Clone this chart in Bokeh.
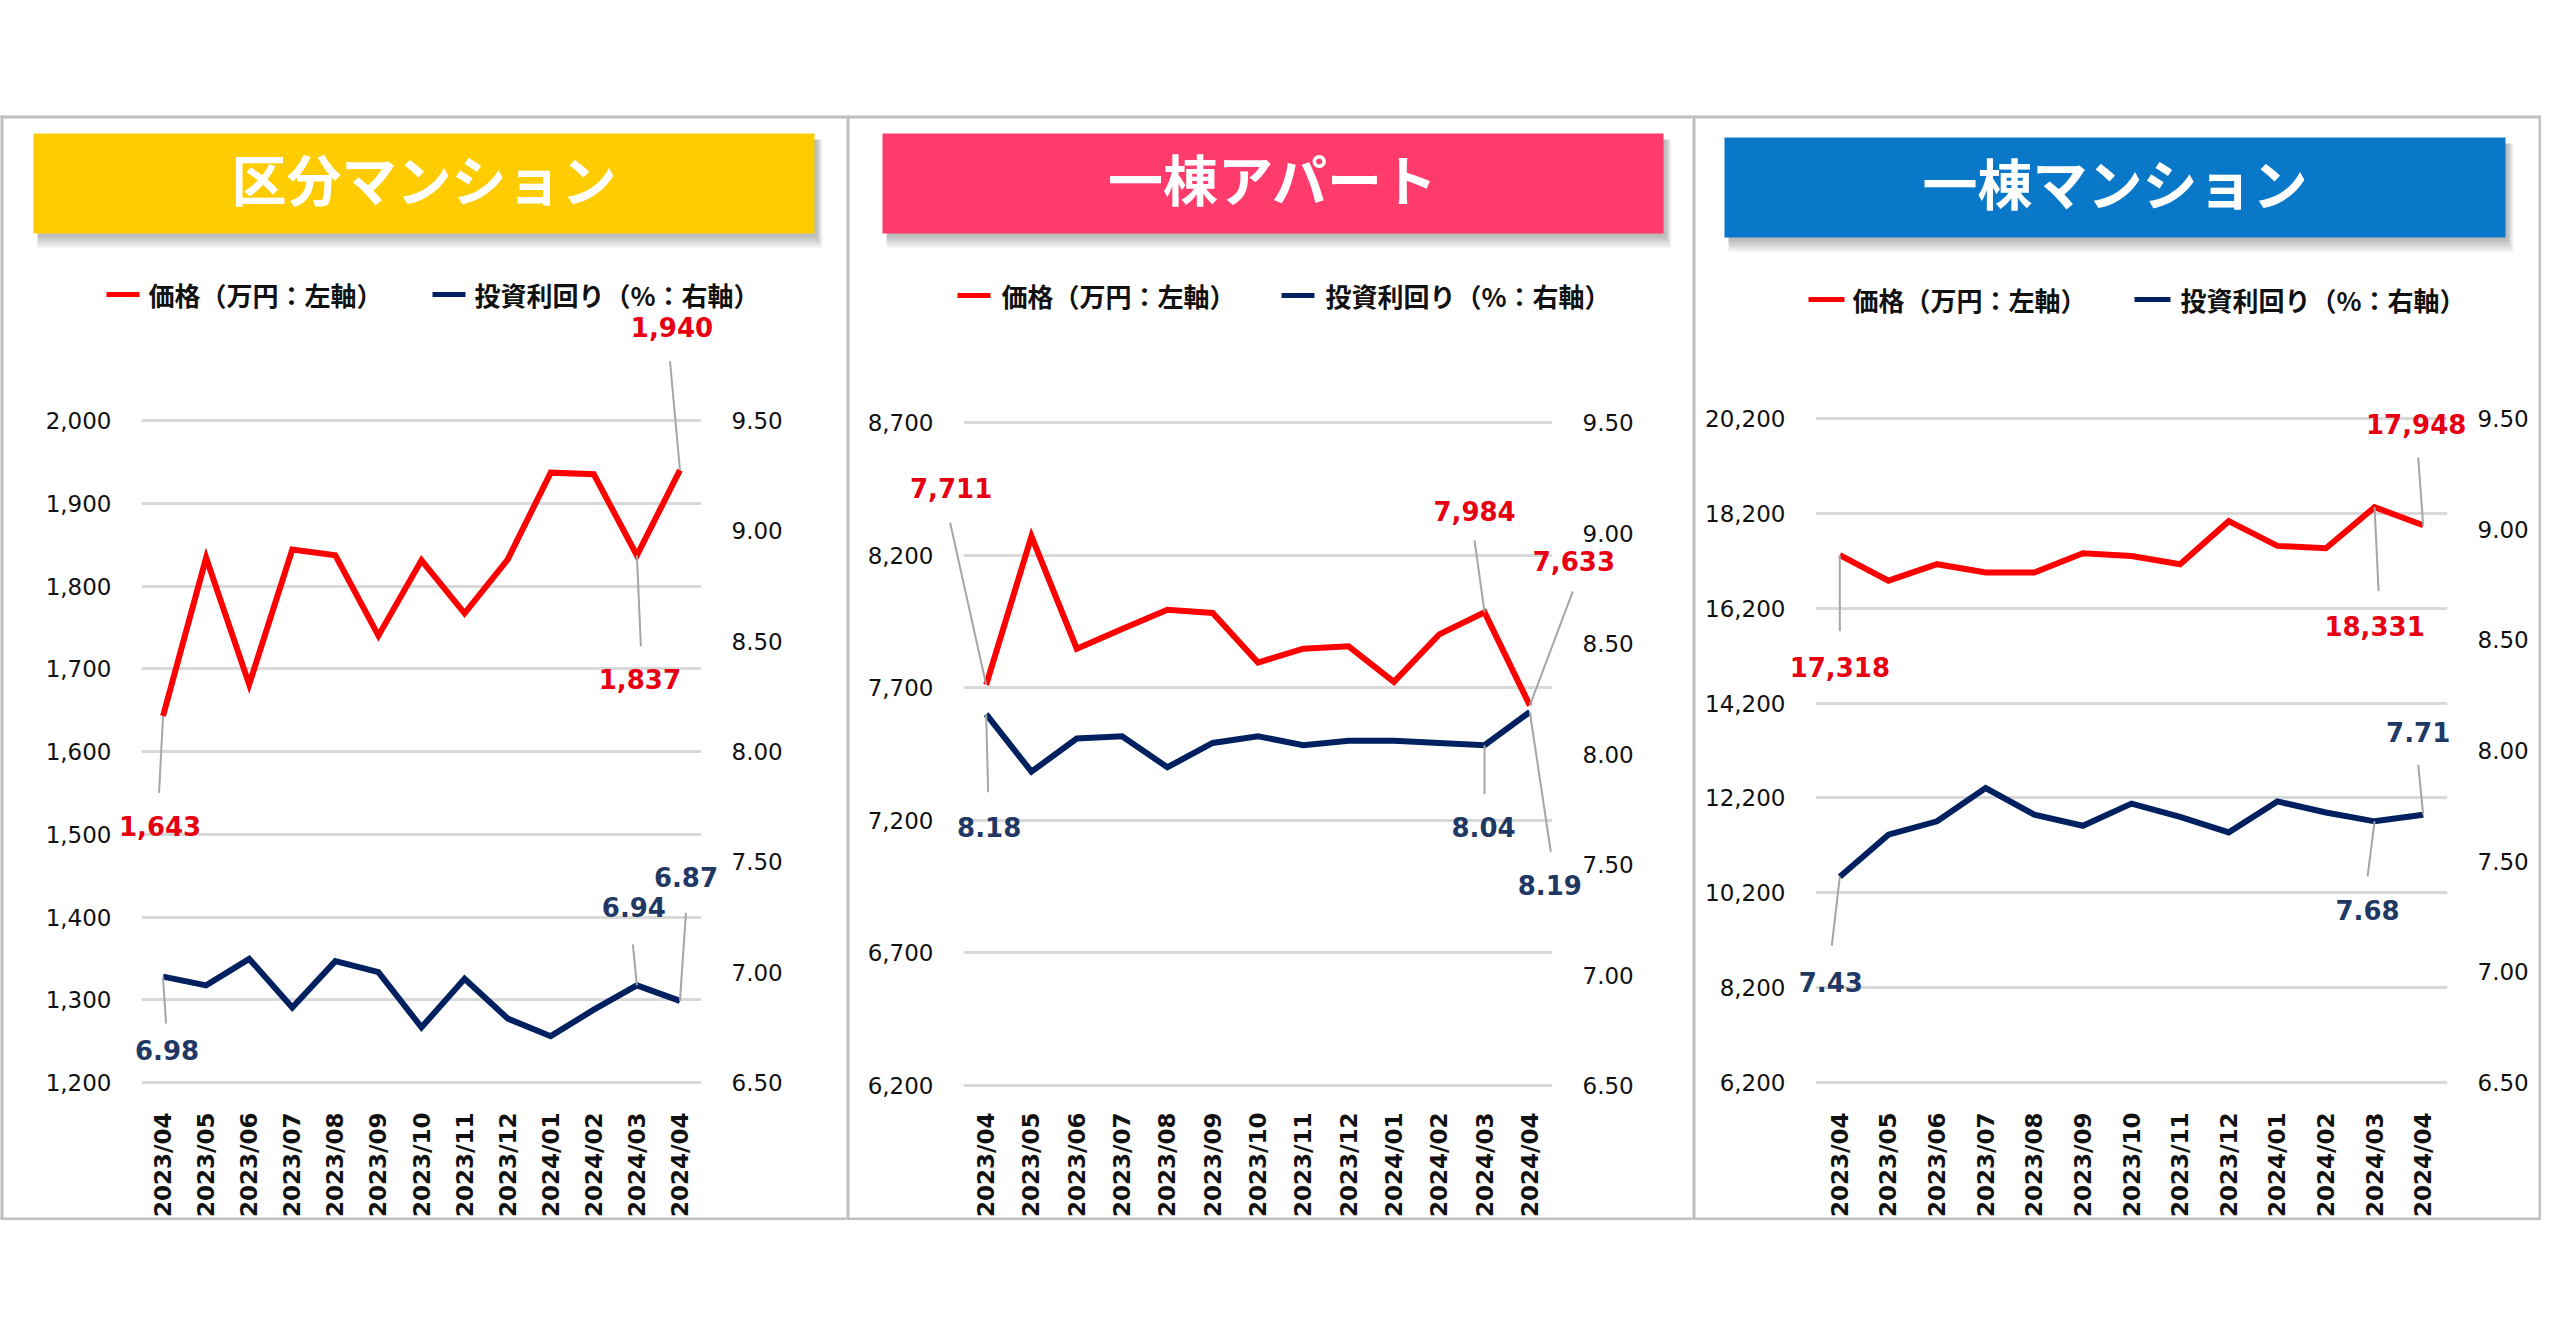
import math
from bokeh.plotting import figure
from bokeh.models import (Range1d, LinearAxis, FixedTicker, NumeralTickFormatter,
                          ColumnDataSource, Spacer)
from bokeh.layouts import row, column
from bokeh.core.properties import value
from bokeh.embed import file_html
from bokeh.resources import INLINE

# ---------------- data ----------------
months = ["2023/04", "2023/05", "2023/06", "2023/07", "2023/08", "2023/09", "2023/10",
          "2023/11", "2023/12", "2024/01", "2024/02", "2024/03", "2024/04"]

kubun_price = [1643, 1834, 1681, 1844, 1837, 1740, 1831, 1767, 1832, 1937, 1935, 1837, 1940]
kubun_yield = [6.98, 6.94, 7.06, 6.84, 7.05, 7.00, 6.75, 6.97, 6.79, 6.71, 6.83, 6.94, 6.87]

apart_price = [7711, 8271, 7847, 7921, 7994, 7982, 7795, 7847, 7856, 7722, 7901, 7984, 7633]
apart_yield = [8.18, 7.92, 8.07, 8.08, 7.94, 8.05, 8.08, 8.04, 8.06, 8.06, 8.05, 8.04, 8.19]

mansion_price = [17318, 16780, 17128, 16954, 16954, 17359, 17301, 17128, 18036, 17514, 17466, 18331, 17948]
mansion_yield = [7.43, 7.62, 7.68, 7.83, 7.71, 7.66, 7.76, 7.70, 7.63, 7.77, 7.72, 7.68, 7.71]

kubun_left_ticks = [1200, 1300, 1400, 1500, 1600, 1700, 1800, 1900, 2000]
apart_left_ticks = [6200, 6700, 7200, 7700, 8200, 8700]
mansion_left_ticks = [6200, 8200, 10200, 12200, 14200, 16200, 18200, 20200]
yield_ticks = [6.5, 7.0, 7.5, 8.0, 8.5, 9.0, 9.5]

titles = ["区分マンション", "一棟アパート", "一棟マンション"]
legend_labels = ["価格（万円：左軸）", "投資利回り（%：右軸）"]

# ---------------- styles / layout ----------------
RED = "#FF0000"
NAVY = "#002060"
RED_TXT = "#E60012"
NAVY_TXT = "#1F3864"
GRID = "#D9D9D9"
BORDER = "#BFBFBF"
LEADER = "#A6A6A6"

CH = 1105          # canvas height (panel incl. borders)
FT = 196           # frame top (canvas px)
FB = 973           # frame bottom (canvas px)
TOP_SPACE = 115

# label specs: (index, label dx, label dy, leader dx, leader dy) in screen px (y down)
# legend: (red line x0, x1, red text x, navy line x0, x1, navy text x, y)
PANELS = [
    dict(title=titles[0], color="#FFCC00", price=kubun_price, yld=kubun_yield,
         ticks=kubun_left_ticks, W=846, fl=141, fr=701, gt=305, gb=967,
         banner=(33, 814, 18, 118), legend=(106, 139, 148, 432, 465, 474, 179),
         right_border=False,
         plbl=[(0, -3, 110, -4, 77), (11, 3, 124, 4, 91), (12, -8, -143, -10, -109)],
         ylbl=[(0, 4, 73, 3, 47), (11, -3, -78, -4, -41), (12, 6, -124, 6, -88)]),
    dict(title=titles[1], color="#FF3B6B", price=apart_price, yld=apart_yield,
         ticks=apart_left_ticks, W=846, fl=117, fr=706, gt=307, gb=970,
         banner=(36, 817, 18, 118), legend=(111, 144, 155, 435, 468, 479, 180),
         right_border=False,
         plbl=[(0, -35, -197, -36, -162), (11, -10, -101, -10, -72), (12, 44, -144, 43, -114)],
         ylbl=[(0, 3, 113, 2, 78), (11, -1, 82, 0, 49), (12, 20, 173, 21, 140)]),
    dict(title=titles[2], color="#0A78C8", price=mansion_price, yld=mansion_yield,
         ticks=mansion_left_ticks, W=849, fl=123, fr=755, gt=303, gb=967,
         banner=(32, 813, 22, 122), legend=(116, 152, 160, 442, 478, 488, 184),
         right_border=True,
         plbl=[(0, 0, 112, 0, 76), (11, 0, 119, 4, 84), (12, -7, -101, -5, -68)],
         ylbl=[(0, -9, 105, -8, 69), (11, -7, 89, -7, 55), (12, -5, -83, -5, -50)]),
]


def make_panel(cfg):
    n = len(months)
    W = cfg["W"]
    fl, fr, gt, gb = cfg["fl"], cfg["fr"], cfg["gt"], cfg["gb"]
    FW = fr - fl
    lmin, lmax = cfg["ticks"][0], cfg["ticks"][-1]
    rmin, rmax = yield_ticks[0], yield_ticks[-1]
    ppl = (gb - gt) / (lmax - lmin)
    ppr = (gb - gt) / (rmax - rmin)
    ppx = FW / n

    p = figure(width=W, height=CH, x_range=Range1d(-0.5, n - 0.5),
               y_range=Range1d(lmin - (FB - gb) / ppl, lmax + (gt - FT) / ppl),
               output_backend="svg", toolbar_location=None,
               min_border_left=fl, min_border_right=W - fr,
               min_border_top=FT, min_border_bottom=CH - FB)
    p.outline_line_color = None
    p.background_fill_color = "white"
    p.border_fill_color = "white"
    p.extra_y_ranges = {"yld": Range1d(rmin - (FB - gb) / ppr, rmax + (gt - FT) / ppr),
                        "py": Range1d(FB, FT)}
    p.extra_x_ranges = {"px": Range1d(fl, fr)}

    lt = FixedTicker(ticks=cfg["ticks"])
    yax = p.yaxis[0]
    yax.ticker = lt
    yax.formatter = NumeralTickFormatter(format="0,0")
    p.ygrid[0].ticker = lt
    p.ygrid.grid_line_color = GRID
    p.ygrid.grid_line_width = 3
    p.xgrid.visible = False

    rax = LinearAxis(y_range_name="yld", ticker=FixedTicker(ticks=yield_ticks),
                     formatter=NumeralTickFormatter(format="0.00"))
    p.add_layout(rax, "right")

    xax = p.xaxis[0]
    xax.ticker = FixedTicker(ticks=list(range(n)))
    xax.major_label_overrides = {i: m for i, m in enumerate(months)}
    xax.major_label_orientation = math.pi / 2
    xax.major_label_standoff = 18
    xax.major_label_text_font = "DejaVu Sans"
    xax.major_label_text_font_style = "bold"
    xax.major_label_text_font_size = "23px"
    xax.major_label_text_color = "#111111"

    for ax, so in ((yax, 24), (rax, 24)):
        ax.major_label_standoff = so
        ax.major_label_text_font = "DejaVu Sans"
        ax.major_label_text_font_size = "23px"
        ax.major_label_text_color = "#111111"
    for ax in (xax, yax, rax):
        ax.axis_line_color = None
        ax.major_tick_line_color = None
        ax.minor_tick_line_color = None

    # ---- decorations in canvas-pixel coordinates (px / py ranges) ----
    deco = dict(x_range_name="px", y_range_name="py", level="overlay")
    l, r, t, b = cfg["banner"]
    for k in range(1, 11):
        p.quad(left=l + 4, right=r + 2 + k * 0.6, top=t + 6, bottom=b + 2 + k * 1.3,
               fill_color="black", fill_alpha=0.028, line_color=None, **deco)
    p.quad(left=l, right=r, top=t, bottom=b, fill_color=cfg["color"], line_color=None, **deco)
    p.text(x=[(l + r) / 2], y=[(t + b) / 2 - 7], text=[cfg["title"]],
           text_align="center", text_baseline="middle", text_color="white",
           text_font=value("Noto Sans CJK JP"), text_font_style="bold",
           text_font_size="55px", **deco)
    # panel border
    bx0, bx1 = [1.5], [W - 1.5]
    p.segment(x0=[0], y0=[1.5], x1=[W], y1=[1.5], line_color=BORDER, line_width=3, **deco)
    p.segment(x0=[0], y0=[CH - 1.5], x1=[W], y1=[CH - 1.5], line_color=BORDER, line_width=3, **deco)
    p.segment(x0=bx0, y0=[0], x1=bx0, y1=[CH], line_color=BORDER, line_width=3, **deco)
    if cfg["right_border"]:
        p.segment(x0=bx1, y0=[0], x1=bx1, y1=[CH], line_color=BORDER, line_width=3, **deco)

    # legend (series key)
    rx0, rx1, rtx, nx0, nx1, ntx, ly = cfg["legend"]
    p.segment(x0=[rx0, nx0], y0=[ly, ly], x1=[rx1, nx1], y1=[ly, ly],
              line_color=[RED, NAVY], line_width=5, **deco)
    p.text(x=[rtx, ntx], y=[ly, ly], text=legend_labels, text_align="left",
           text_baseline="middle", text_color="#111111",
           text_font=value("Noto Sans CJK JP"), text_font_style="bold",
           text_font_size="26px", **deco)

    src = ColumnDataSource(dict(x=list(range(n)), price=cfg["price"], yld=cfg["yld"]))

    def lab(specs, vals, pp, fmt):
        d = dict(x=[], y=[], t=[], x0=[], y0=[], x1=[], y1=[])
        for (i, dx, dy, ldx, ldy) in specs:
            v = vals[i]
            d["x"].append(i + dx / ppx)
            d["y"].append(v - dy / pp)
            d["t"].append(fmt(v))
            d["x0"].append(i)
            d["y0"].append(v)
            d["x1"].append(i + ldx / ppx)
            d["y1"].append(v - ldy / pp)
        return ColumnDataSource(d)

    ps = lab(cfg["plbl"], cfg["price"], ppl, lambda v: f"{v:,}")
    ys = lab(cfg["ylbl"], cfg["yld"], ppr, lambda v: f"{v:.2f}")

    p.segment(x0="x0", y0="y0", x1="x1", y1="y1", source=ps, line_color=LEADER, line_width=2,
              level="overlay")
    p.segment(x0="x0", y0="y0", x1="x1", y1="y1", source=ys, line_color=LEADER, line_width=2,
              y_range_name="yld", level="overlay")

    p.line(x="x", y="price", source=src, line_color=RED, line_width=6, line_join="miter")
    p.line(x="x", y="yld", source=src, line_color=NAVY, line_width=6, line_join="miter",
           y_range_name="yld")

    p.text(x="x", y="y", text="t", source=ps, text_align="center", text_baseline="middle",
           text_color=RED_TXT, text_font=value("DejaVu Sans"), text_font_style="bold",
           text_font_size="26px", level="overlay")
    p.text(x="x", y="y", text="t", source=ys, text_align="center", text_baseline="middle",
           text_color=NAVY_TXT, text_font=value("DejaVu Sans"), text_font_style="bold",
           text_font_size="26px", y_range_name="yld", level="overlay")
    return p


panels = [make_panel(cfg) for cfg in PANELS]
layout = column(Spacer(width=10, height=TOP_SPACE), row(*panels))

open("out.html", "w").write(file_html(layout, INLINE))
